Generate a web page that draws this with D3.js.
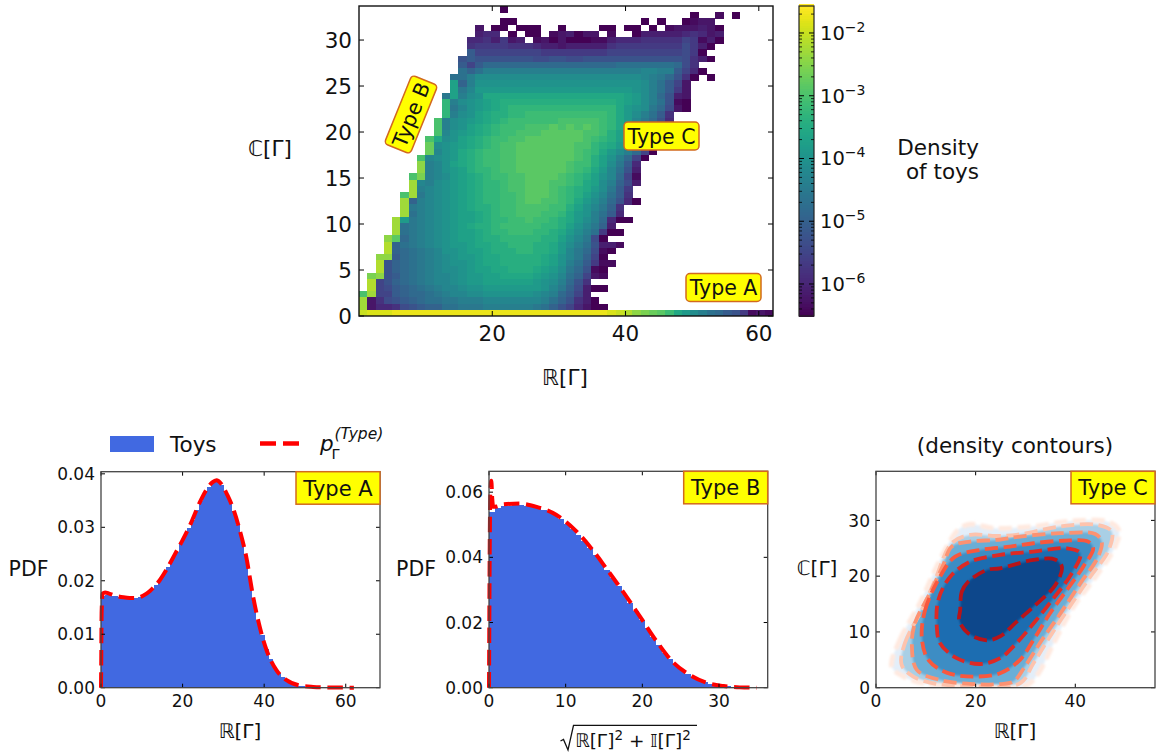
<!DOCTYPE html>
<html><head><meta charset="utf-8">
<script src="https://cdn.jsdelivr.net/npm/d3@7"></script>
<style>html,body{margin:0;padding:0;background:#fff}svg{display:block}text{font-family:"DejaVu Sans";fill:#111}</style>
</head><body><svg id="c" width="1156" height="756"></svg>
<script>
// Heatmap: rows top to bottom; characters are base-36 colour levels (0-35), '.' is an empty bin.
const heatStart=[17,40,17,14,14,13,13,13,12,12,12,11,11,11,10,10,10,10,9,9,9,8,8,8,7,7,7,6,6,6,5,5,5,5,4,4,4,3,3,3,2,2,2,1,1,1,0,0,0,0];
const heatCells=[
"0",
"0..1.0",
"00...............0.0..0122",
"2.00.000..0....00.00.0.1222320",
"344.0.00.123022.1..03333345423",
"4453623.12020001134445555576130",
"566665554332333335666666668630",
"a7777777766666666777777777860",
"9a99999998899889999999999998530",
"a7accccccccccccccccdddddddc85",
"dbdfffffffffffffffffffggffa740",
"ddfhhhhhhhhhhhhhhhhhhhhgfec950.0",
"kbfiiiiiiiiiiiiiiiiiiiihfda72",
"kegjjjjjjjjjjjjjjjjjjjihfda62",
"ekfhilllllllllllllllllkjhfc932",
"nfhijklmmmmmmmmmmmmmmlkjhfd910",
"negijklmnnnnnnnnnnnnnljihec820",
"nfhiklmmnnoooooooooonljhfda5",
"pfhijklmnooooooppppponljgec94",
"pfhiklmnooopppqpqpqponljfdb72",
"pgijklmnoopppqqqqqppomkigca5",
"plhiklmnooppqqqqqqqponmkifc94",
"rhijklmnoppqqqqqqqppnmljhfc94",
"rgijlmnooppqqqqqqqponljhfc70",
"pghijlmnooppqqqqqqqpomkifc70",
"tfgiklmnooppqqqqqqpoomkhea4",
"tfgijkmnnoppqqqqqqponljgd93",
"psfghjklmnooppqqqqponmkigc71",
"ugfhijklmnnoppqqqpponlkhfb83",
"ufghijklmnnoppqqqponmljhea6",
"pueghijklmnnoopqqqponmkigda5",
"ubfghijklmnnoopqqpponljhfc940",
"uefghijklmmnooppppoomkigeb5",
"udfghijkklmnoopppoonljifda4",
"ujefghijkklmnnoopoonmljhfc400",
"udefghijklmmnooooonnmkigeb3",
"udefghijkklmnnooonnmljhfd600",
"tqcefghijkklmmnnnnnmmkige80",
"vbdefghijjkllmmnnnmmljhfd9331",
"vbcdefgiijkklmmmnnmmljgec810",
"ttacdefghijjkllmmmmmlkigeb70",
"v9bcdefghiijkllmmmmmlkifda611",
"v9bcdefghhijkkllmmmlkjhec910",
"st9acdefgghijjkkllllkjigdb721",
"v79bcdefgghijjkkkkkkjihfc95",
"v78abcdefgghiijjjjjjjigeb8300",
"pu77abccdefgghhiiiiiihgfca73",
"u2589abcddeefffgggggggfdb9530",
"u244589abbddeeeffffffedb974200",
"wxxxyyyyyyyyyyyyyyyyyyyyyyyyyyxwvtsrqoljhfdca96121"
];
const heatBins=50, heatLevels=35;
const mainXTicks=[20,40,60], mainYTicks=[0,5,10,15,20,25,30];
const cbarExps=[-2,-3,-4,-5,-6];
const cbarSubs=[2,3,4,5,6,7,8,9];

// Type A histogram (bin width 1) and fitted pdf
const histABinWidth=1;
const histA=[.0172,.0174,.0172,.0171,.0170,.0169,.0168,.0168,.0168,.0170,.0173,.0178,.0185,.0193,.0202,.0213,.0226,.0240,.0254,.0268,.0283,.0298,.0314,.0332,.0350,.0365,.0376,.0383,.0385,.0379,.0365,.0349,.0331,.0305,.0278,.0246,.0205,.0160,.0125,.0098,.0072,.0053,.0038,.0028,.0020,.0014,.0010,.0007,.0004,.0003,.0002,.00015,.0001,.00008,.00006,.00005];
const pdfAx=[0,.05,.15,.4,1,2,4,5.5,7,8.5,10.3,12,14.4,16,18,20,22,24.3,26,27.3,28.3,29.5,31,32.4,34,35.6,37.3,39,40.6,43,45.5,48.8,52,56,62];
const pdfAy=[0,.004,.014,.0176,.0178,.0176,.0171,.0169,.0168,.0168,.0172,.0181,.0201,.0220,.0248,.0276,.0307,.0348,.0372,.0384,.0388,.0381,.0360,.0335,.0295,.0245,.0170,.0111,.0070,.0033,.0014,.0004,.00015,.00005,.00001];
const aXTicks=[0,20,40,60], aYTicks=[0,.01,.02,.03,.04];

// Type B histogram (bin width 0.75) and fitted pdf
const histBBinWidth=.75;
const histB=[.0540,.0552,.0556,.0559,.0561,.0561,.0559,.0556,.0552,.0546,.0538,.0529,.0517,.0503,.0488,.0470,.0450,.0430,.0408,.0385,.0360,.0336,.0312,.0287,.0261,.0235,.0209,.0183,.0157,.0132,.0108,.0087,.0069,.0054,.0042,.0032,.0024,.0017,.0012,.0008,.0006,.0004,.0002,.0001,.00005];
const pdfBx=[0,.04,.1,.18,.3,.42,.56,1.0,1.9,4,6.2,8.8,11,13.2,15.3,17.5,19.7,21.9,24,26.2,28.4,30.6,32.7,34.9];
const pdfBy=[0,.02,.045,.060,.0635,.058,.0555,.0556,.0563,.0565,.0555,.053,.0489,.0432,.0366,.0294,.0218,.0141,.0078,.0039,.0015,.0005,.0001,0];
const bXTicks=[0,10,20,30], bYTicks=[0,.02,.04,.06];

// Type C density contours, outermost first
const contours=[
[[3.15,3.8],[4.8,8.55],[8.8,15.1],[12.85,22.9],[16.5,28.3],[18.9,29.3],[23.6,28.6],[31.6,28.9],[38.3,29.8],[46.3,29.8],[48.7,28.3],[48,25.3],[43.6,19.3],[39.6,14.5],[35.3,7.35],[32.6,2.6],[30.3,.5],[18.9,.2],[9.5,.8],[5.5,2]],
[[5.15,4.1],[5.8,8],[9.5,14.5],[11.85,19.3],[15.2,25.9],[18.9,27.4],[24.2,27.2],[28.9,27.5],[37,28.9],[44.3,29.2],[47.3,28],[46.7,24.7],[43,19.9],[39.3,15.1],[34.9,9.15],[31.6,4.4],[28.9,.8],[19.5,.3],[12,.7],[7.5,2]],
[[7.2,7.65],[7.8,11.5],[10.8,16.9],[13.5,22],[15.2,25.3],[18.9,26.2],[24.2,26.5],[28.9,27.1],[37,27.7],[44,27.55],[45.3,26.2],[44.6,23.5],[41,18.7],[37,13.3],[33.3,8.55],[29.9,3.8],[27.6,1.1],[24.9,.65],[19.5,.65],[12.85,1.4],[8.2,3.2]],
[[9.2,8.85],[9.85,13.9],[12.85,19.9],[15.9,23.5],[20.9,24.7],[26.9,25.3],[31.6,25.9],[37.6,26.35],[42.6,26.2],[43.6,25],[41.6,21.7],[38.3,17.5],[34.9,13.3],[31.6,8.55],[28.9,5],[24.9,2.6],[19.5,2],[14.2,2.7],[10.5,5]],
[[12.2,11],[12.5,15.7],[14.9,19.9],[18.9,22.6],[24.9,23.8],[31.6,24.4],[38.3,25],[41,24.1],[39.3,20.5],[35.6,16],[31.6,11.5],[28.2,8],[24.9,5.3],[20.9,4.25],[16.2,5.3],[12.85,8]],
[[16.9,13.9],[17.2,17.2],[18.5,19],[22.2,21.1],[24.9,21.4],[31.6,22.9],[35.9,23],[37.3,21.7],[36,18.4],[31.6,14.5],[28.2,11.8],[24.9,9.2],[22.2,8.5],[18.5,9.75],[16.7,12.1]]
];
const contourFills=["#e3eef9","#a9cfe5","#6baed6","#3d8dc4","#1f6db1","#08468b"];
const contourLines=["#ffe9df","#fdc3ad","#fc9272","#f8583e","#dc2a25","#b81419"];
const cXTicks=[0,20,40], cYTicks=[0,10,20,30];

const svg=d3.select("#c");
const defs=svg.append("defs");
const tl=(g,x,y,t,o={})=>g.append("text").attr("x",x).attr("y",y).text(t)
  .attr("font-size",o.size||21.5).attr("text-anchor",o.anchor||"middle");

function frame(g,x,y,xT,yT,o){
  const [l,r]=x.range(),[b,t]=y.range(),len=o.len||4;
  const ax=g.append("g");
  xT.forEach(v=>{const p=x(v);
    ax.append("line").attr("x1",p).attr("x2",p).attr("y1",b).attr("y2",b-len).attr("stroke","#000");
    ax.append("line").attr("x1",p).attr("x2",p).attr("y1",t).attr("y2",t+len).attr("stroke","#000");
    tl(ax,p,b+o.xpad,o.xf?o.xf(v):v,{size:o.size});
  });
  yT.forEach(v=>{const p=y(v);
    ax.append("line").attr("x1",l).attr("x2",l+len).attr("y1",p).attr("y2",p).attr("stroke","#000");
    ax.append("line").attr("x1",r).attr("x2",r-len).attr("y1",p).attr("y2",p).attr("stroke","#000");
    tl(ax,l-o.ypad,p+o.size*.36,o.yf?o.yf(v):v,{size:o.size,anchor:"end"});
  });
  ax.append("rect").attr("x",l).attr("y",t).attr("width",r-l).attr("height",b-t)
    .attr("fill","none").attr("stroke",o.spine||"#444").attr("stroke-width",o.sw||1.3);
}

// ---------- main heatmap
const mx=d3.scaleLinear().domain([0,62.13]).range([359,773]);
const my=d3.scaleLinear().domain([0,33.7]).range([316,6]);
const heat=svg.append("g").attr("shape-rendering","crispEdges");
const bw=62.13/heatBins,bh=33.7/heatBins;
heatCells.forEach((s,ri)=>{
  const row=heatBins-1-ri;
  [...s].forEach((ch,k)=>{
    if(ch===".")return;
    const col=heatStart[ri]+k; if(col>=heatBins)return;
    heat.append("rect").attr("x",mx(col*bw)).attr("y",my((row+1)*bh))
      .attr("width",mx((col+1)*bw)-mx(col*bw)+.3).attr("height",my(row*bh)-my((row+1)*bh)+.3)
      .attr("fill",d3.interpolateViridis(parseInt(ch,36)/heatLevels));
  });
});
frame(svg.append("g"),mx,my,mainXTicks,mainYTicks,{size:21.5,xpad:24.5,ypad:7,len:5,spine:"#111",sw:1.4});
tl(svg,565,385,"ℝ[Γ]");
tl(svg,270,156,"ℂ[Γ]");

function badge(cx,cy,w,h,t,rot){
  const g=svg.append("g").attr("transform",`translate(${cx},${cy}) rotate(${rot||0})`);
  g.append("rect").attr("x",-w/2).attr("y",-h/2).attr("width",w).attr("height",h).attr("rx",4)
    .attr("fill","#ffff00").attr("stroke","#d2691e").attr("stroke-width",1.5);
  tl(g,0,7.5,t,{size:20.5});
}
badge(723.5,287.5,75,28,"Type A");
badge(661.5,136,75,28,"Type C");
badge(411,114.5,74,28,"Type B",-68);

// ---------- colour bar
const cb=d3.scaleLinear().domain([-6.51,-1.57]).range([316,6]);
const cbg=svg.append("g").attr("shape-rendering","crispEdges");
d3.range(0,128).forEach(i=>{
  const a=-6.51+4.94*i/128,b=-6.51+4.94*(i+1)/128;
  cbg.append("rect").attr("x",799).attr("width",15).attr("y",cb(b)).attr("height",cb(a)-cb(b)+.5)
     .attr("fill",d3.interpolateViridis(i/127));
});
cbg.append("rect").attr("x",799).attr("width",15).attr("y",4).attr("height",2).attr("fill","#fde725");
svg.append("rect").attr("x",799).attr("y",6).attr("width",15).attr("height",310).attr("fill","none").attr("stroke","#222").attr("stroke-width",1.2);
cbarExps.forEach(e=>{
  const p=cb(e);
  [[799,804],[814,809]].forEach(([a,b])=>svg.append("line").attr("x1",a).attr("x2",b).attr("y1",p).attr("y2",p).attr("stroke","#000"));
  const t=tl(svg,820,p+7,"10",{anchor:"start",size:19.5});
  t.append("tspan").attr("dy",-8).attr("font-size",14).text("−"+(-e));
});
[-7,...cbarExps.slice().reverse()].forEach(e=>cbarSubs.forEach(m=>{
  const v=e+Math.log10(m); if(v<-6.51||v>-1.57)return;
  const p=cb(v);
  [[799,802],[814,811]].forEach(([a,b])=>svg.append("line").attr("x1",a).attr("x2",b).attr("y1",p).attr("y2",p).attr("stroke","#000").attr("stroke-width",.8));
}));
tl(svg,979,155,"Density",{anchor:"end"});
tl(svg,979,179,"of toys",{anchor:"end"});

// ---------- legend
svg.append("rect").attr("x",110).attr("y",436).attr("width",44).attr("height",16).attr("fill","royalblue");
tl(svg,170,451.5,"Toys",{anchor:"start"});
svg.append("line").attr("x1",260).attr("x2",300).attr("y1",443.5).attr("y2",443.5).attr("stroke","red").attr("stroke-width",4.5).attr("stroke-dasharray","16,7");
tl(svg,320,451,"p",{anchor:"start"}).attr("font-style","italic");
tl(svg,331.5,459,"Γ",{anchor:"start",size:14.5});
tl(svg,334.5,439,"(Type)",{anchor:"start",size:15.5}).attr("font-style","italic");

// ---------- histogram panels
function pdfPanel(L,R,T,B,xmax,ymax,hist,hw,px,py,xT,yT,pdfX,name){
  const x=d3.scaleLinear().domain([0,xmax]).range([L,R]);
  const y=d3.scaleLinear().domain([0,ymax]).range([B,T]);
  const g=svg.append("g");
  const h=g.append("g").attr("shape-rendering","crispEdges");
  hist.forEach((v,i)=>h.append("rect").attr("x",x(i*hw)).attr("width",x((i+1)*hw)-x(i*hw)+.4)
    .attr("y",y(v)).attr("height",B-y(v)).attr("fill","royalblue"));
  const line=d3.line().x(d=>x(d[0])).y(d=>y(d[1])).curve(d3.curveMonotoneX);
  g.append("path").attr("d",line(px.map((v,i)=>[v,py[i]]))).attr("fill","none").attr("stroke","red")
    .attr("stroke-width",4).attr("stroke-dasharray","15.5,6.7");
  frame(g,x,y,xT,yT,{size:17,xpad:19,ypad:6,yf:v=>v.toFixed(2)});
  tag(R,T,name);
  tl(svg,pdfX,576,"PDF",{size:20.5});
}
function tag(R,T,t){
  svg.append("rect").attr("x",R-84).attr("y",T).attr("width",84).attr("height",32.5)
    .attr("fill","#ffff00").attr("stroke","#d2691e").attr("stroke-width",1.5);
  tl(svg,R-42,T+24,t,{size:21});
}
pdfPanel(101,380,471.7,687.7,68.4,.0404,histA,histABinWidth,pdfAx,pdfAy,aXTicks,aYTicks,28.5,"Type A");
pdfPanel(489,767.7,471.3,687.7,36.35,.0664,histB,histBBinWidth,pdfBx,pdfBy,bXTicks,bYTicks,416,"Type B");
tl(svg,240,738,"ℝ[Γ]",{size:20});
// x label of the Type B panel
svg.append("path").attr("d","M560.5,741 L563.5,739.5 L568,750 L573.5,725.3 L697,725.3").attr("fill","none").attr("stroke","#111").attr("stroke-width",1.3);
const sq=tl(svg,575,747,"ℝ[Γ]",{size:18.5,anchor:"start"});
sq.append("tspan").attr("dy",-7).attr("font-size",13.5).text("2");
sq.append("tspan").attr("dy",7).text(" + 𝕀[Γ]");
sq.append("tspan").attr("dy",-7).attr("font-size",13.5).text("2");

// ---------- contour panel
const cx=d3.scaleLinear().domain([0,56]).range([876,1155]);
const cy=d3.scaleLinear().domain([0,38.8]).range([687.7,471.3]);
defs.append("clipPath").attr("id","clipC").append("rect").attr("x",876).attr("y",471.3).attr("width",279).attr("height",216.4);
const soft=(id,s)=>defs.append("filter").attr("id",id).attr("x","-10%").attr("y","-10%").attr("width","120%").attr("height","120%")
  .append("feGaussianBlur").attr("stdDeviation",s);
soft("soft",1.2); soft("softer",.9);
const closed=d3.line().x(d=>cx(d[0])).y(d=>cy(d[1])).curve(d3.curveCatmullRomClosed.alpha(.5));
const cg=svg.append("g").attr("clip-path","url(#clipC)");
const fills=cg.append("g").attr("filter","url(#soft)");
contours.forEach((c,i)=>fills.append("path").attr("d",closed(c)).attr("fill",contourFills[i]));
contours.forEach((c,i)=>cg.append("path").attr("d",closed(c)).attr("fill","none").attr("stroke",contourLines[i])
  .attr("filter",i==0?"url(#softer)":null)
  .attr("stroke-width",i==0?5:3.8).attr("stroke-dasharray","13,5.6"));
frame(svg.append("g"),cx,cy,cXTicks,cYTicks,{size:17,xpad:19,ypad:6});
tag(1155,471.3,"Type C");
tl(svg,1015,453,"(density contours)");
tl(svg,1015,738,"ℝ[Γ]",{size:20});
tl(svg,817,575,"ℂ[Γ]",{size:20});
</script></body></html>
